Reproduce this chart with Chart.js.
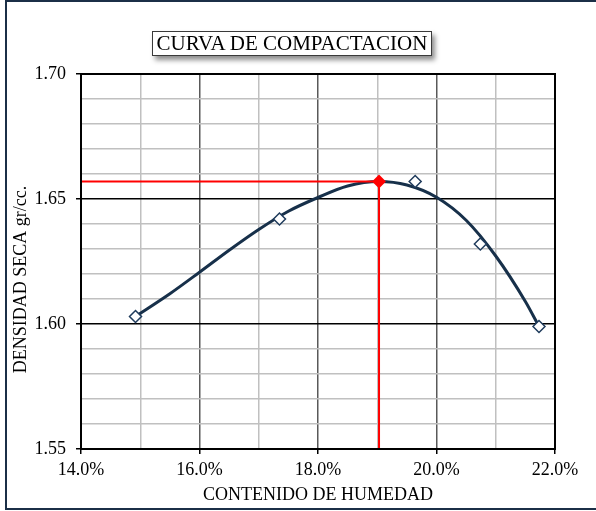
<!DOCTYPE html>
<html>
<head>
<meta charset="utf-8">
<script src="https://cdn.jsdelivr.net/npm/chart.js@4/dist/chart.umd.min.js"></script>
<style>
  html, body { margin: 0; padding: 0; background: #fff; overflow: hidden; }
  #wrap { position: relative; width: 596px; height: 511px; }
  canvas { position: absolute; left: 0; top: 0; }
  #frame { position: absolute; left: 5px; top: 0; width: 600px; height: 510px; border: 2px solid #1b2f47; box-sizing: border-box; pointer-events: none; }
  #titulo { position: absolute; left: 152px; top: 31px; width: 280px; height: 25px; box-sizing: border-box;
            border: 1px solid #3a3a3a; background: #fff; box-shadow: 3px 4px 5px rgba(0,0,0,0.45);
            font: 21px "Liberation Serif", serif; line-height: 23px; text-align: center; color: #000; white-space: nowrap; }
</style>
</head>
<body>
<div id="wrap">
  <canvas id="grafico" width="596" height="511"></canvas>
  <div id="titulo">CURVA DE COMPACTACION</div>
  <div id="frame"></div>
</div>
<script>
// puntos del ensayo: humedad (%) y densidad seca (gr/cc)
var humedad = [14.92, 17.35, 19.64, 20.74, 21.73];
var densidad = [1.603, 1.642, 1.657, 1.632, 1.599];

// curva de ajuste
var curvaHumedad = [14.92, 15.5, 16.0, 16.5, 17.0, 17.5, 18.0, 18.5, 19.03, 19.5, 20.0, 20.5, 21.0, 21.5, 21.73];
var curvaDensidad = [1.603, 1.6121, 1.6207, 1.6295, 1.6378, 1.6451, 1.6506, 1.6552, 1.657, 1.6556, 1.6507, 1.6415, 1.6272, 1.609, 1.599];

// optimo contenido de humedad / maxima densidad seca
var och = 19.03;
var mds = 1.657;

// limites de ejes
var xMin = 14, xMax = 22, xPaso = 1;
var yMin = 1.55, yMax = 1.70, yPaso = 0.01;

var fuente = '"Liberation Serif", "Times New Roman", serif';

function pares(xs, ys) {
    return xs.map(function (x, i) { return { x: x, y: ys[i] }; });
}

// marco del area de trazado + titulo del eje Y
var marcoPlot = {
    id: 'marcoPlot',
    afterDraw: function (chart) {
        var ctx = chart.ctx, a = chart.chartArea;
        ctx.save();
        ctx.strokeStyle = '#000';
        ctx.lineWidth = 2;
        ctx.strokeRect(a.left, a.top, a.right - a.left, a.bottom - a.top);

        ctx.translate(21, (a.top + a.bottom) / 2 + 18);
        ctx.rotate(-Math.PI / 2);
        ctx.font = '18px ' + fuente;
        ctx.fillStyle = '#000';
        ctx.textAlign = 'center';
        ctx.textBaseline = 'middle';
        ctx.fillText('DENSIDAD SECA gr/cc.', 0, 0);
        ctx.restore();
    }
};

var grafico = new Chart(document.getElementById('grafico'), {
    type: 'scatter',
    data: {
        datasets: [{
            label: 'ensayo',
            data: pares(humedad, densidad),
            showLine: false,
            pointStyle: 'rectRot',
            pointRadius: 6,
            pointBorderWidth: 1.5,
            pointBorderColor: '#1f3b5c',
            pointBackgroundColor: '#fff',
            order: 0
        }, {
            label: 'optimo',
            data: [{ x: xMin, y: mds }, { x: och, y: mds }, { x: och, y: yMin }],
            showLine: true,
            borderColor: '#ff0000',
            borderWidth: 2,
            tension: 0,
            pointStyle: 'rectRot',
            pointRadius: [0, 5.5, 0],
            pointBorderColor: '#ff0000',
            pointBackgroundColor: '#ff0000',
            order: 1
        }, {
            label: 'curva',
            data: pares(curvaHumedad, curvaDensidad),
            showLine: true,
            borderColor: '#17304a',
            borderWidth: 3,
            cubicInterpolationMode: 'monotone',
            pointRadius: 0,
            order: 2
        }]
    },
    options: {
        responsive: false,
        animation: false,
        events: [],
        layout: { padding: { left: 0, right: 41, top: 74, bottom: 5 } },
        plugins: {
            legend: { display: false },
            tooltip: { enabled: false }
        },
        scales: {
            x: {
                type: 'linear',
                min: xMin,
                max: xMax,
                afterFit: function (s) { s.height = 57; },
                ticks: {
                    stepSize: xPaso,
                    autoSkip: false,
                    maxRotation: 0,
                    padding: 5,
                    color: '#000',
                    font: { family: fuente, size: 18 },
                    callback: function (v) { return v % 2 === 0 ? v.toFixed(1) + '%' : ''; }
                },
                grid: {
                    lineWidth: 1.5,
                    tickLength: 5,
                    color: function (c) { return c.tick && c.tick.value % 2 === 0 ? '#595959' : '#c0c0c0'; },
                    tickColor: function (c) { return c.tick && c.tick.value % 2 === 0 ? '#000' : 'rgba(0,0,0,0)'; }
                },
                border: { display: true, color: '#000', width: 2 },
                title: {
                    display: true,
                    text: 'CONTENIDO DE HUMEDAD',
                    color: '#000',
                    font: { family: fuente, size: 18 },
                    padding: { top: 0, bottom: 0 }
                }
            },
            y: {
                type: 'linear',
                min: yMin,
                max: yMax,
                afterFit: function (s) { s.width = 81; },
                ticks: {
                    stepSize: yPaso,
                    autoSkip: false,
                    padding: 10,
                    color: '#000',
                    font: { family: fuente, size: 18 },
                    callback: function (v) {
                        var c = Math.round(v * 100);
                        return c % 5 === 0 ? (c / 100).toFixed(2) : '';
                    }
                },
                grid: {
                    lineWidth: 1.5,
                    tickLength: 5,
                    color: function (c) { return c.tick && Math.round(c.tick.value * 100) % 5 === 0 ? '#000' : '#c0c0c0'; },
                    tickColor: function (c) { return c.tick && Math.round(c.tick.value * 100) % 5 === 0 ? '#000' : 'rgba(0,0,0,0)'; }
                },
                border: { display: true, color: '#000', width: 2 }
            }
        }
    },
    plugins: [marcoPlot]
});
</script>
</body>
</html>
